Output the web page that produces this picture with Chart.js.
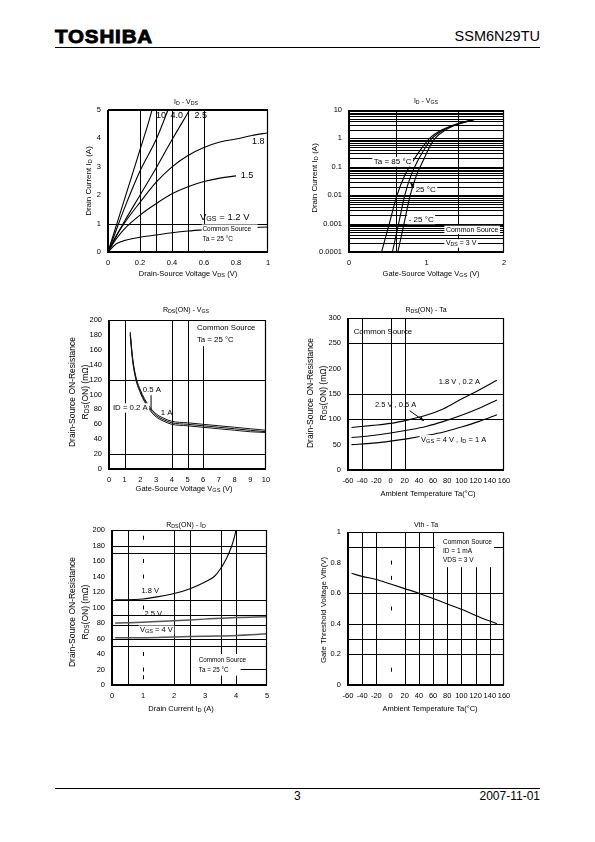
<!DOCTYPE html>
<html>
<head>
<meta charset="utf-8">
<script src="https://cdn.jsdelivr.net/npm/chart.js@4.4.1/dist/chart.umd.min.js"></script>
<style>
html, body { margin: 0; padding: 0; background: #fff; }
#page { position: relative; width: 595px; height: 842px; overflow: hidden; font-family: "Liberation Sans", Arial, sans-serif; color: #000; }
#page canvas { position: absolute; left: 0; top: 0; }
.logo { position: absolute; left: 55px; top: 27px; font-size: 19px; line-height: 19px; font-weight: bold; letter-spacing: 0.8px; -webkit-text-stroke: 0.9px #000; transform: scaleX(1.08); transform-origin: left top; }
.part { position: absolute; right: 55px; top: 29px; font-size: 14.5px; line-height: 14.5px; }
.rule { position: absolute; left: 55px; width: 485px; height: 1px; background: #000; }
.foot { position: absolute; top: 790px; font-size: 12px; line-height: 12px; }
</style>
</head>
<body>
<div id="page">
  <div class="logo">TOSHIBA</div>
  <div class="part">SSM6N29TU</div>
  <div class="rule" style="top:47px"></div>
  <div class="rule" style="top:788px"></div>
  <div class="foot" style="left:294px">3</div>
  <div class="foot" style="right:55px">2007-11-01</div>
  <canvas id="c1" width="595" height="842"></canvas>
  <canvas id="c2" width="595" height="842"></canvas>
  <canvas id="c3" width="595" height="842"></canvas>
  <canvas id="c4" width="595" height="842"></canvas>
  <canvas id="c5" width="595" height="842"></canvas>
  <canvas id="c6" width="595" height="842"></canvas>
</div>
<script>
// ---- ID - VDS (Ta = 25 C), one curve per VGS
const vdsTicks = [0, 0.2, 0.4, 0.6, 0.8, 1];
const idTicks = [0, 1, 2, 3, 4, 5];
const vds10 = [0, 0.05, 0.1, 0.15, 0.2, 0.25, 0.275];
const id10 = [0, 0.9, 1.8, 2.7, 3.6, 4.5, 5.0];
const vds40 = [0, 0.05, 0.1, 0.2, 0.3, 0.375];
const id40 = [0, 0.75, 1.5, 2.85, 3.95, 5.0];
const vds25 = [0, 0.05, 0.1, 0.2, 0.3, 0.4, 0.51];
const id25 = [0, 0.55, 1.05, 2.0, 2.95, 3.95, 5.0];
const vds18 = [0, 0.05, 0.1, 0.2, 0.3, 0.4, 0.5, 0.6, 0.7, 0.8, 0.9, 1.0];
const id18 = [0, 0.55, 1.0, 1.75, 2.45, 3.0, 3.4, 3.68, 3.87, 3.98, 4.1, 4.2];
const vds15 = [0, 0.05, 0.1, 0.2, 0.3, 0.4, 0.5, 0.6, 0.7, 0.8];
const id15 = [0, 0.45, 0.8, 1.3, 1.7, 2.05, 2.3, 2.48, 2.6, 2.68];
const vds12 = [0, 0.05, 0.1, 0.2, 0.3, 0.4, 0.5, 0.6, 0.7, 0.8, 0.9, 1.0];
const id12 = [0, 0.28, 0.4, 0.52, 0.6, 0.68, 0.74, 0.78, 0.81, 0.84, 0.86, 0.88];

// ---- ID - VGS (VDS = 3 V), one curve per Ta
const vgsTicks2 = [0, 1, 2];
const idLogTicks = [0.0001, 0.001, 0.01, 0.1, 1, 10];
const idVgs = [0.0001, 0.001, 0.01, 0.05, 0.15, 0.5, 1, 2, 3.3, 4.6];
const vgs85 = [0.42, 0.52, 0.62, 0.72, 0.82, 0.95, 1.04, 1.2, 1.4, 1.62];
const vgs25 = [0.56, 0.64, 0.72, 0.8, 0.88, 0.99, 1.07, 1.22, 1.41, 1.62];
const vgsM25 = [0.63, 0.71, 0.79, 0.87, 0.95, 1.04, 1.11, 1.25, 1.43, 1.62];

// ---- RDS(ON) - VGS
const vgsTicks3 = [0, 1, 2, 3, 4, 5, 6, 7, 8, 9, 10];
const rTicks200 = [0, 20, 40, 60, 80, 100, 120, 140, 160, 180, 200];
const vgs3 = [1.35, 1.5, 1.7, 2.0, 2.5, 3.0, 3.5, 4.0, 5, 6, 7, 8, 9, 10];
const rds02A = [184, 150, 125, 106, 86, 74, 68, 64, 62, 60, 58, 56, 54, 52];
const rds05A = [182, 148, 123, 104, 84, 72, 66, 62, 60, 58, 56, 54, 52, 50];
const rds1A = [180, 146, 121, 102, 82, 70, 64, 60, 58, 56, 54, 52, 50, 49];

// ---- RDS(ON) - Ta
const taTicks = [-60, -40, -20, 0, 20, 40, 60, 80, 100, 120, 140, 160];
const rTicks300 = [0, 50, 100, 150, 200, 250, 300];
const ta4 = [-55, -25, 0, 25, 50, 75, 100, 125, 150];
const rds18V = [84, 88, 92, 99, 108, 121, 140, 158, 177];
const rds25V = [64, 68, 73, 79, 86, 96, 108, 122, 138];
const rds4V = [50, 53, 57, 62, 68, 75, 85, 96, 109];

// ---- RDS(ON) - ID
const idTicks5 = [0, 1, 2, 3, 4, 5];
const id5a = [0.1, 0.5, 1, 1.5, 2, 2.5, 3, 3.3, 3.5, 3.7, 3.85, 3.95, 4.0];
const rdsId18 = [110, 110, 111, 114, 118, 124, 133, 140, 150, 164, 178, 191, 200];
const id5b = [0.1, 1, 2, 3, 4, 5];
const rdsId25 = [80, 81, 83, 85, 87, 88];
const rdsId4 = [61, 61, 62, 63, 64, 66];

// ---- Vth - Ta
const vthTicks = [0, 0.2, 0.4, 0.6, 0.8, 1];
const ta6 = [-55, -40, -20, 0, 20, 40, 60, 80, 100, 120, 150];
const vth = [0.73, 0.71, 0.69, 0.66, 0.63, 0.6, 0.565, 0.53, 0.495, 0.455, 0.4];

const FONT = '"Liberation Sans", Arial, Helvetica, sans-serif';

// "I_{D}" -> I with subscript D
function parts(str) {
  const out = [];
  const re = /_\{([^}]*)\}/g;
  let last = 0, m;
  while ((m = re.exec(str))) {
    if (m.index > last) out.push({t: str.slice(last, m.index), sub: false});
    out.push({t: m[1], sub: true});
    last = re.lastIndex;
  }
  if (last < str.length) out.push({t: str.slice(last), sub: false});
  return out;
}

function rich(ctx, str, x, y, size, align, bg, rot) {
  const ps = parts(str);
  ctx.save();
  ctx.translate(x, y);
  if (rot) ctx.rotate(rot);
  ctx.textBaseline = 'middle';
  ctx.textAlign = 'left';
  let w = 0;
  ps.forEach(p => {
    ctx.font = (p.sub ? size * 0.75 : size) + 'px ' + FONT;
    p.w = ctx.measureText(p.t).width;
    w += p.w;
  });
  let cx = align === 'center' ? -w / 2 : align === 'right' ? -w : 0;
  if (bg) {
    ctx.fillStyle = '#fff';
    ctx.fillRect(cx - 1.5, -size * 0.6, w + 3, size * 1.2);
  }
  ctx.fillStyle = '#000';
  ps.forEach(p => {
    ctx.font = (p.sub ? size * 0.75 : size) + 'px ' + FONT;
    ctx.fillText(p.t, cx, p.sub ? size * 0.2 : 0);
    cx += p.w;
  });
  ctx.restore();
}

// grid lines, label boxes, notes, frame and titles
function sheet(cfg) {
  return {
    id: 'sheet',
    beforeDatasetsDraw(chart) {
      const {ctx, chartArea: a, scales: {x, y}} = chart;
      ctx.save();
      ctx.strokeStyle = '#000';
      ctx.lineWidth = 1;
      ctx.beginPath();
      (cfg.gridX || []).forEach(v => {
        const p = Math.round(x.getPixelForValue(v)) + 0.5;
        ctx.moveTo(p, a.top); ctx.lineTo(p, a.bottom);
      });
      (cfg.gridY || []).forEach(v => {
        const p = Math.round(y.getPixelForValue(v)) + 0.5;
        ctx.moveTo(a.left, p); ctx.lineTo(a.right, p);
      });
      ctx.stroke();
      // short tick marks on one inner line
      if (cfg.marks) {
        const m = cfg.marks;
        ctx.beginPath();
        m.at.forEach(v => {
          if (m.axis === 'x') {
            const px = Math.round(x.getPixelForValue(m.pos)) + 0.5, py = y.getPixelForValue(v);
            ctx.moveTo(px, py - 2); ctx.lineTo(px, py + 2);
          }
        });
        ctx.stroke();
      }
      ctx.restore();
    },
    afterDatasetsDraw(chart) {
      const {ctx, chartArea: a, scales: {x, y}} = chart;
      ctx.save();
      ctx.fillStyle = '#fff';
      (cfg.boxes || []).forEach(b => {
        const x1 = x.getPixelForValue(b[0]), y1 = y.getPixelForValue(b[1]);
        const x2 = x.getPixelForValue(b[2]), y2 = y.getPixelForValue(b[3]);
        ctx.fillRect(Math.min(x1, x2), Math.min(y1, y2), Math.abs(x2 - x1), Math.abs(y2 - y1));
      });
      ctx.strokeStyle = '#000';
      ctx.lineWidth = 1;
      (cfg.segs || []).forEach(s => {
        const x1 = x.getPixelForValue(s[0]), y1 = y.getPixelForValue(s[1]);
        const x2 = x.getPixelForValue(s[2]), y2 = y.getPixelForValue(s[3]);
        ctx.beginPath(); ctx.moveTo(x1, y1); ctx.lineTo(x2, y2); ctx.stroke();
        if (s[4]) {
          const ang = Math.atan2(y2 - y1, x2 - x1);
          ctx.beginPath();
          ctx.moveTo(x2, y2);
          ctx.lineTo(x2 - 5 * Math.cos(ang - 0.4), y2 - 5 * Math.sin(ang - 0.4));
          ctx.lineTo(x2 - 5 * Math.cos(ang + 0.4), y2 - 5 * Math.sin(ang + 0.4));
          ctx.closePath();
          ctx.fillStyle = '#000';
          ctx.fill();
        }
      });
      (cfg.notes || []).forEach(n => {
        rich(ctx, n.t, x.getPixelForValue(n.x), y.getPixelForValue(n.y), n.s || 7.5, n.a || 'left', n.bg);
      });
      // plot frame: heavy left/bottom axes
      ctx.strokeStyle = '#000';
      ctx.lineWidth = 1.2;
      ctx.beginPath();
      ctx.moveTo(a.left, a.top + 0.5); ctx.lineTo(a.right - 0.5, a.top + 0.5); ctx.lineTo(a.right - 0.5, a.bottom);
      ctx.stroke();
      ctx.lineWidth = 2;
      ctx.beginPath();
      ctx.moveTo(a.left, a.top); ctx.lineTo(a.left, a.bottom); ctx.lineTo(a.right, a.bottom);
      ctx.stroke();
      if (cfg.heavyTop) {
        ctx.beginPath(); ctx.moveTo(a.left, a.top); ctx.lineTo(a.right, a.top); ctx.stroke();
      }
      // titles
      rich(ctx, cfg.title.t, cfg.title.x, cfg.title.y, cfg.title.s || 7, 'center');
      rich(ctx, cfg.xTitle.t, cfg.xTitle.x, cfg.xTitle.y, cfg.xTitle.s || 7.5, 'center');
      cfg.yTitle.lines.forEach(l => {
        rich(ctx, l.t, l.x, cfg.yTitle.y, cfg.yTitle.s || 8, 'center', false, -Math.PI / 2);
      });
      ctx.restore();
    }
  };
}

function pts(xs, ys) { return xs.map((v, i) => ({x: v, y: ys[i]})); }

function axis(type, min, max, ticks, isY, pad) {
  return {
    type: type, min: min, max: max,
    grid: {display: false, drawTicks: false},
    border: {display: false},
    ticks: {
      color: '#000', font: {family: FONT, size: 7.5}, padding: pad,
      autoSkip: false, maxRotation: 0, minRotation: 0,
      callback: v => String(v)
    },
    afterBuildTicks: s => { s.ticks = ticks.map(v => ({value: v})); },
    afterFit: s => {
      if (isY) s.width = 30; else s.height = 14;
      s.paddingTop = 0; s.paddingBottom = 0; s.paddingLeft = 0; s.paddingRight = 0;
    }
  };
}

function build(id, cfg) {
  const [l, t, r, b] = cfg.area;
  return new Chart(document.getElementById(id), {
    type: 'line',
    data: {
      datasets: cfg.series.map(s => ({
        data: pts(s.x, s.y),
        borderColor: s.c || '#000',
        borderWidth: s.w || 1.1,
        pointRadius: 0,
        fill: false,
        cubicInterpolationMode: 'monotone'
      }))
    },
    options: {
      responsive: false,
      animation: false,
      events: [],
      layout: {padding: {left: l - 30, top: t, right: 595 - r, bottom: 842 - b - 14}},
      plugins: {legend: {display: false}, tooltip: {enabled: false}},
      scales: {
        x: axis(cfg.xType || 'linear', cfg.xMin, cfg.xMax, cfg.xTicks, false, 6),
        y: axis(cfg.yType || 'linear', cfg.yMin, cfg.yMax, cfg.yTicks, true, 7)
      }
    },
    plugins: [sheet(cfg)]
  });
}

// log minor grid from the decade ticks
const logGrid = [];
idLogTicks.slice(0, -1).forEach(d => { for (let k = 1; k <= 9; k++) logGrid.push(d * k); });
logGrid.push(idLogTicks[idLogTicks.length - 1]);

const rdsTitle = [{t: 'Drain-Source ON-Resistance'}, {t: 'R_{DS}(ON) (mΩ)'}];

build('c1', {
  area: [108, 110, 268, 252], heavyTop: true,
  xMin: 0, xMax: 1, xTicks: vdsTicks, yMin: 0, yMax: 5, yTicks: idTicks,
  series: [
    {x: vds10, y: id10}, {x: vds40, y: id40}, {x: vds25, y: id25},
    {x: vds18, y: id18}, {x: vds15, y: id15}, {x: vds12, y: id12}
  ],
  gridX: [0.2, 0.3, 0.4, 0.5, 0.6], gridY: [1],
  boxes: [[0.585, 0.97, 0.935, 0.05]],
  notes: [
    {t: '10', x: 0.3, y: 4.8, s: 9}, {t: '4.0', x: 0.39, y: 4.8, s: 9}, {t: '2.5', x: 0.54, y: 4.8, s: 9},
    {t: '1.8', x: 0.9, y: 3.9, s: 9}, {t: '1.5', x: 0.83, y: 2.7, s: 9},
    {t: 'V_{GS} = 1.2 V', x: 0.575, y: 1.22, s: 9.5},
    {t: 'Common Source', x: 0.59, y: 0.81, s: 6.5},
    {t: 'Ta = 25 °C', x: 0.59, y: 0.45, s: 6.5}
  ],
  title: {t: 'I_{D} - V_{DS}', x: 186, y: 102},
  xTitle: {t: 'Drain-Source Voltage V_{DS} (V)', x: 188, y: 274},
  yTitle: {lines: [{t: 'Drain Current I_{D} (A)', x: 89}], y: 181}
});

build('c2', {
  area: [349, 110, 504, 252],
  xMin: 0, xMax: 2, xTicks: vgsTicks2, yType: 'logarithmic', yMin: 0.0001, yMax: 10, yTicks: idLogTicks,
  series: [{x: vgs85, y: idVgs}, {x: vgs25, y: idVgs}, {x: vgsM25, y: idVgs}],
  gridX: [0.6, 1.4], gridY: logGrid,
  segs: [[0.85, 0.018, 0.79, 0.028, true]],
  notes: [
    {t: 'Ta = 85 °C', x: 0.32, y: 0.15, s: 8, bg: true},
    {t: '25 °C', x: 0.86, y: 0.016, s: 8, bg: true},
    {t: '- 25 °C', x: 0.77, y: 0.0014, s: 8, bg: true},
    {t: 'Common Source', x: 1.25, y: 0.0006, s: 7, bg: true},
    {t: 'V_{DS} = 3 V', x: 1.25, y: 0.0002, s: 7, bg: true}
  ],
  title: {t: 'I_{D} - V_{GS}', x: 426, y: 101},
  xTitle: {t: 'Gate-Source Voltage V_{GS} (V)', x: 431, y: 274},
  yTitle: {lines: [{t: 'Drain Current I_{D} (A)', x: 315}], y: 178}
});

build('c3', {
  area: [109, 320, 266, 469],
  xMin: 0, xMax: 10, xTicks: vgsTicks3, yMin: 0, yMax: 200, yTicks: rTicks200,
  series: [
    {x: vgs3, y: rds02A, w: 1, c: '#111'},
    {x: vgs3, y: rds05A, w: 1, c: '#111'},
    {x: vgs3, y: rds1A, w: 1, c: '#111'}
  ],
  gridX: [1, 4, 5, 6], gridY: [120, 20],
  boxes: [[5.5, 199, 9.9, 165]],
  segs: [[2.68, 99, 2.68, 80, false], [2.45, 83, 2.62, 80, false]],
  notes: [
    {t: 'Common Source', x: 5.6, y: 189, s: 7.8},
    {t: 'Ta = 25 °C', x: 5.6, y: 174, s: 7.8},
    {t: '0.5 A', x: 2.15, y: 106, s: 7.8},
    {t: 'ID = 0.2 A', x: 0.25, y: 82, s: 7.8, bg: true},
    {t: '1 A', x: 3.3, y: 76, s: 7.8}
  ],
  title: {t: 'R_{DS}(ON) - V_{GS}', x: 186, y: 310},
  xTitle: {t: 'Gate-Source Voltage V_{GS} (V)', x: 184, y: 489},
  yTitle: {lines: [{t: rdsTitle[0].t, x: 73}, {t: rdsTitle[1].t, x: 86}], y: 392, s: 8.5}
});

build('c4', {
  area: [348, 318, 504, 470],
  xMin: -60, xMax: 160, xTicks: taTicks, yMin: 0, yMax: 300, yTicks: rTicks300,
  series: [{x: ta4, y: rds18V}, {x: ta4, y: rds25V}, {x: ta4, y: rds4V}],
  gridX: [-40, 0, 20], gridY: [250, 150, 100],
  marks: {axis: 'x', pos: 0, at: [200, 50]},
  segs: [[27, 117, 47, 97, true]],
  notes: [
    {t: 'Common Source', x: -52, y: 273, s: 7.8},
    {t: '1.8 V , 0.2 A', x: 68, y: 173, s: 7.5},
    {t: '2.5 V , 0.5 A', x: -22, y: 128, s: 7.5},
    {t: 'V_{GS} = 4 V , I_{D} = 1 A', x: 43, y: 60, s: 7.5, bg: true}
  ],
  title: {t: 'R_{DS}(ON) - Ta', x: 426, y: 310},
  xTitle: {t: 'Ambient Temperature Ta(°C)', x: 428, y: 494},
  yTitle: {lines: [{t: rdsTitle[0].t, x: 311}, {t: rdsTitle[1].t, x: 324}], y: 393, s: 8.5}
});

build('c5', {
  area: [112, 530, 267, 685],
  xMin: 0, xMax: 5, xTicks: idTicks5, yMin: 0, yMax: 200, yTicks: rTicks200,
  series: [
    {x: id5a, y: rdsId18},
    {x: id5b, y: rdsId25, c: '#555', w: 1.5},
    {x: id5b, y: rdsId4, c: '#555', w: 1.5}
  ],
  gridX: [0.5, 2, 2.5, 3.5, 4], gridY: [180, 170, 110, 90, 78, 60, 50],
  marks: {axis: 'x', pos: 1, at: [190, 160, 140, 100, 40, 20, 10]},
  boxes: [[2.72, 40, 4.15, 12]],
  segs: [[4.15, 20, 5, 20, false]],
  notes: [
    {t: '1.8 V', x: 0.95, y: 121, s: 7.5},
    {t: '2.5 V', x: 1.05, y: 92, s: 7.5},
    {t: 'V_{GS} = 4 V', x: 0.9, y: 71, s: 7.5, bg: true},
    {t: 'Common Source', x: 2.8, y: 32, s: 6.3},
    {t: 'Ta = 25 °C', x: 2.8, y: 19, s: 6.3}
  ],
  title: {t: 'R_{DS}(ON) - I_{D}', x: 186, y: 525},
  xTitle: {t: 'Drain Current I_{D} (A)', x: 181, y: 709},
  yTitle: {lines: [{t: rdsTitle[0].t, x: 73}, {t: rdsTitle[1].t, x: 86}], y: 612, s: 8.5}
});

build('c6', {
  area: [348, 532, 504, 685],
  xMin: -60, xMax: 160, xTicks: taTicks, yMin: 0, yMax: 1, yTicks: vthTicks,
  series: [{x: ta6, y: vth}],
  gridX: [-40, -20, 20, 40, 60, 80, 100, 120, 140], gridY: [0.9, 0.6, 0.4, 0.3, 0.2],
  marks: {axis: 'x', pos: 0, at: [0.8, 0.7, 0.5, 0.1]},
  boxes: [[63, 1, 146, 0.77]],
  notes: [
    {t: 'Common Source', x: 74, y: 0.935, s: 6.5},
    {t: 'ID = 1 mA', x: 74, y: 0.877, s: 6.5},
    {t: 'VDS = 3 V', x: 74, y: 0.816, s: 6.5}
  ],
  title: {t: 'Vth - Ta', x: 426, y: 525},
  xTitle: {t: 'Ambient Temperature Ta(°C)', x: 430, y: 709},
  yTitle: {lines: [{t: 'Gate Threshold Voltage Vth(V)', x: 324}], y: 610, s: 7.8}
});
</script>
</body>
</html>
